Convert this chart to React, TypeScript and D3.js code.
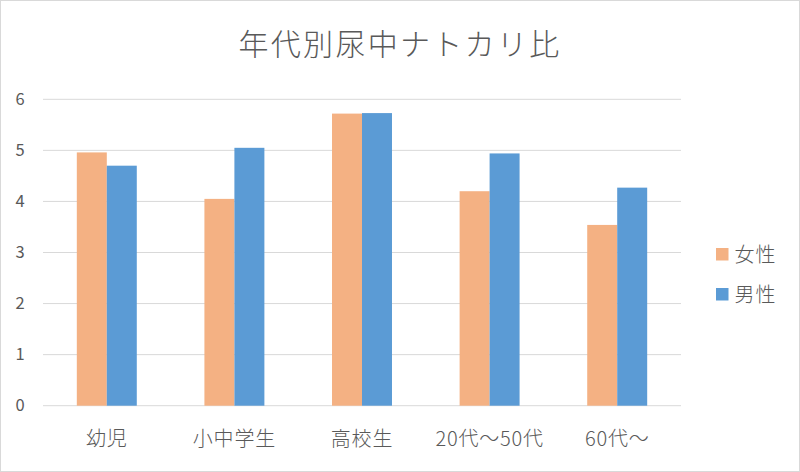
import React from 'react';
import * as d3 from 'd3';

const categories = ['幼児', '小中学生', '高校生', '20代～50代', '60代～'];
const seriesNames = ['女性', '男性'];
const femaleValues = [4.96, 4.05, 5.72, 4.2, 3.54];
const maleValues = [4.7, 5.05, 5.73, 4.94, 4.27];
const yTicks = [0, 1, 2, 3, 4, 5, 6];
const colors = ['#F4B183', '#5B9BD5'];

const width = 800;
const height = 472;
const font = "'Noto Sans CJK JP', 'Noto Sans', sans-serif";
const textColor = '#595959';

const App: React.FC = () => {
  const plot = { left: 43, right: 681, top: 99.3, bottom: 405.7 };

  const x = d3.scaleBand<string>()
    .domain(categories)
    .range([plot.left, plot.right])
    .paddingInner(0.53)
    .paddingOuter(0.265);

  const x1 = d3.scaleBand<string>()
    .domain(seriesNames)
    .range([0, x.bandwidth()]);

  const y = d3.scaleLinear().domain([0, 6]).range([plot.bottom, plot.top]);

  const series = [femaleValues, maleValues];

  return (
    <svg
      width={width}
      height={height}
      style={{ position: 'absolute', left: 0, top: 0, display: 'block', background: '#fff' }}
    >
      <rect x={0.5} y={0.5} width={width - 1} height={height - 1} fill="#fff" stroke="#d9d9d9" />

      <text
        x={400}
        y={55}
        textAnchor="middle"
        fontFamily={font}
        fontSize={30}
        fontWeight={300}
        letterSpacing={2.3}
        fill={textColor}
      >
        年代別尿中ナトカリ比
      </text>

      {yTicks.map((t) => (
        <g key={t}>
          <line x1={plot.left} x2={plot.right} y1={y(t)} y2={y(t)} stroke="#d9d9d9" strokeWidth={1} />
          <text
            x={20}
            y={y(t)}
            dy="0.35em"
            textAnchor="middle"
            fontFamily={font}
            fontSize={16.5}
            fill={textColor}
          >
            {t}
          </text>
        </g>
      ))}

      {categories.map((c, i) => (
        <g key={c} transform={`translate(${x(c)},0)`}>
          {seriesNames.map((s, j) => (
            <rect
              key={s}
              x={x1(s)}
              y={y(series[j][i])}
              width={x1.bandwidth()}
              height={y(0) - y(series[j][i])}
              fill={colors[j]}
            />
          ))}
        </g>
      ))}

      {categories.map((c) => (
        <text
          key={c}
          x={(x(c) as number) + x.bandwidth() / 2}
          y={438.5}
          dy="0.35em"
          textAnchor="middle"
          fontFamily={font}
          fontSize={20}
          fontWeight={300}
          letterSpacing={0.8}
          fill={textColor}
        >
          {c}
        </text>
      ))}

      {seriesNames.map((s, j) => (
        <g key={s} transform={`translate(716,${248 + j * 40})`}>
          <rect x={0} y={0} width={12.5} height={12.5} fill={colors[j]} />
          <text
            x={18.5}
            y={6.5}
            dy="0.35em"
            fontFamily={font}
            fontSize={20}
            fontWeight={300}
            letterSpacing={1}
            fill={textColor}
          >
            {s}
          </text>
        </g>
      ))}
    </svg>
  );
};

export default App;
